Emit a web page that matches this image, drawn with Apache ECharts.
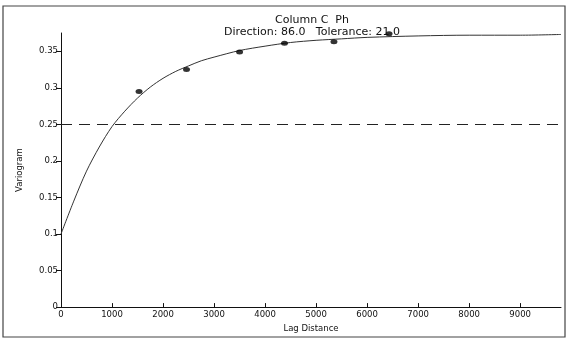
<!DOCTYPE html>
<html>
<head>
<meta charset="utf-8">
<script src="https://cdn.jsdelivr.net/npm/echarts@6/dist/echarts.min.js"></script>
<style>
  html, body { margin: 0; padding: 0; background: #fff; }
  #main { width: 568px; height: 338px; }
</style>
</head>
<body>
<div id="main"></div>
<script>
// 标题
const titleLines = ["Column C  Ph", "Direction: 86.0   Tolerance: 21 0"];

// 刻度
const xTicks = [0, 1000, 2000, 3000, 4000, 5000, 6000, 7000, 8000, 9000];
const yTicks = [0, 0.05, 0.1, 0.15, 0.2, 0.25, 0.3, 0.35];
const yTickLabels = ["0", "0.05", "0.1", "0.15", "0.2", "0.25", "0.3", "0.35"];

// 实验变异函数点 (lag, gamma)
const lagPoints = [1530, 2460, 3500, 4380, 5350, 6430];
const gammaPoints = [0.295, 0.325, 0.349, 0.361, 0.363, 0.374];

// 模型曲线
const modelLag = [0, 250, 500, 750, 1000, 1250, 1500, 1750, 2000, 2250, 2500, 2750, 3000, 3500, 4000, 4500, 5000, 5500, 6000, 7000, 8000, 9000, 9800];
const modelGamma = [0.100, 0.145, 0.186, 0.219, 0.247, 0.268, 0.286, 0.301, 0.313, 0.3225, 0.330, 0.337, 0.342, 0.351, 0.357, 0.362, 0.365, 0.367, 0.369, 0.371, 0.372, 0.372, 0.373];

// 方差 (虚线)
const sillLine = 0.248;

const chart = echarts.init(document.getElementById("main"));
const font = "'DejaVu Sans', Arial, sans-serif";

const option = {
  backgroundColor: "#fff",
  animation: false,
  title: {
    text: titleLines.join("\n"),
    left: 307,
    textAlign: "center",
    top: 9,
    textStyle: { fontFamily: font, fontSize: 11, fontWeight: "normal", color: "#111", lineHeight: 12 }
  },
  graphic: [
    {
      type: "rect",
      shape: { x: 3, y: 6, width: 562, height: 331 },
      style: { fill: "none", stroke: "#444", lineWidth: 1.2 },
      silent: true
    }
  ],
  grid: { left: 61, right: 7, top: 33, bottom: 25 },
  xAxis: {
    type: "value",
    min: 0,
    max: 9800,
    interval: 1000,
    name: "Lag Distance",
    nameLocation: "middle",
    nameGap: 14,
    nameTextStyle: { fontFamily: font, fontSize: 8.5, color: "#111" },
    axisLine: { show: true, lineStyle: { color: "#111", width: 1 } },
    axisTick: { show: true, inside: true, length: 4, customValues: xTicks, lineStyle: { color: "#111" } },
    axisLabel: {
      customValues: xTicks,
      fontFamily: font, fontSize: 8.5, color: "#111", margin: 3,
      formatter: function (v) { return String(v); }
    },
    splitLine: { show: false }
  },
  yAxis: {
    type: "value",
    min: 0,
    max: 0.375,
    interval: 0.05,
    name: "Variogram",
    nameLocation: "middle",
    nameGap: 37,
    nameRotate: 90,
    nameTextStyle: { fontFamily: font, fontSize: 8.5, color: "#111" },
    axisLine: { show: true, lineStyle: { color: "#111", width: 1 } },
    axisTick: { show: true, length: 5, customValues: yTicks, lineStyle: { color: "#111" } },
    axisLabel: {
      customValues: yTicks,
      fontFamily: font, fontSize: 8.5, color: "#111", margin: 3,
      formatter: function (v) {
        const i = yTicks.findIndex(function (t) { return Math.abs(t - v) < 1e-9; });
        return i >= 0 ? yTickLabels[i] : "";
      }
    },
    splitLine: { show: false }
  },
  series: [
    {
      name: "model",
      type: "line",
      data: modelLag.map(function (x, i) { return [x, modelGamma[i]]; }),
      smooth: 0.3,
      showSymbol: false,
      lineStyle: { color: "#333", width: 1 },
      markLine: {
        silent: true,
        symbol: "none",
        label: { show: false },
        lineStyle: { color: "#222", width: 1, type: [11, 7] },
        data: [{ yAxis: sillLine }]
      },
      z: 2
    },
    {
      name: "points",
      type: "scatter",
      data: lagPoints.map(function (x, i) { return [x, gammaPoints[i]]; }),
      symbol: "circle",
      symbolSize: [7, 5],
      itemStyle: { color: "#000" },
      z: 3
    }
  ]
};
chart.setOption(option);
</script>
</body>
</html>
